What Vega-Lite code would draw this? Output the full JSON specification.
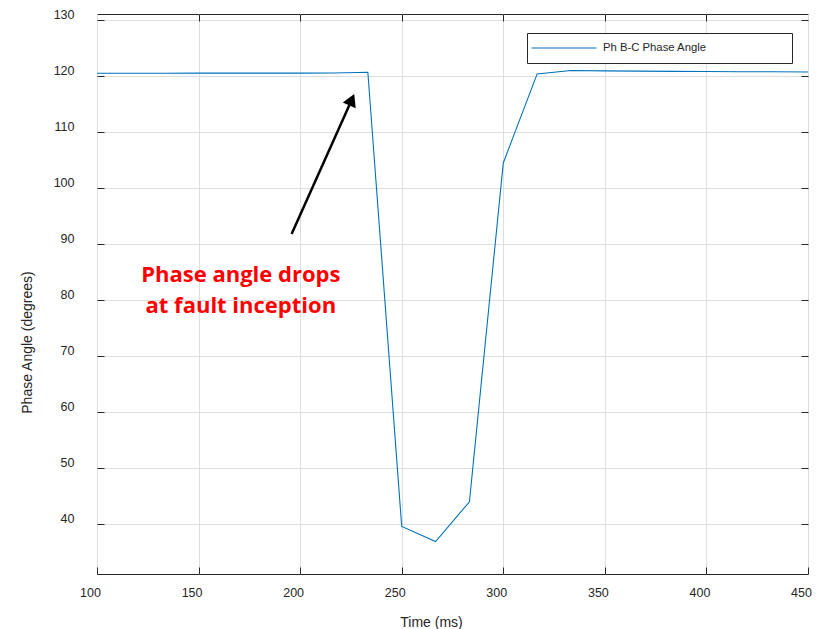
{
  "$schema": "https://vega.github.io/schema/vega-lite/v6.json",
  "width": 711,
  "height": 560,
  "autosize": {"type": "none"},
  "padding": {"left": 97, "top": 14, "right": 9, "bottom": 55},
  "background": "white",
  "config": {
    "view": {"stroke": "#262626", "strokeWidth": 1},
    "axis": {
      "labelFont": "Liberation Sans",
      "titleFont": "Liberation Sans",
      "labelColor": "#262626",
      "titleColor": "#262626",
      "tickColor": "#262626",
      "domain": false,
      "gridColor": "#dedede",
      "gridWidth": 1
    }
  },
  "datasets": {
    "series": [
      {"t": 100, "angle": 120.42, "series": "Ph B-C Phase Angle"},
      {"t": 116.67, "angle": 120.43, "series": "Ph B-C Phase Angle"},
      {"t": 133.33, "angle": 120.43, "series": "Ph B-C Phase Angle"},
      {"t": 150, "angle": 120.44, "series": "Ph B-C Phase Angle"},
      {"t": 166.67, "angle": 120.44, "series": "Ph B-C Phase Angle"},
      {"t": 183.33, "angle": 120.45, "series": "Ph B-C Phase Angle"},
      {"t": 200, "angle": 120.45, "series": "Ph B-C Phase Angle"},
      {"t": 216.67, "angle": 120.46, "series": "Ph B-C Phase Angle"},
      {"t": 233.33, "angle": 120.6, "series": "Ph B-C Phase Angle"},
      {"t": 250, "angle": 39.5, "series": "Ph B-C Phase Angle"},
      {"t": 266.67, "angle": 36.8, "series": "Ph B-C Phase Angle"},
      {"t": 283.33, "angle": 43.9, "series": "Ph B-C Phase Angle"},
      {"t": 300, "angle": 104.4, "series": "Ph B-C Phase Angle"},
      {"t": 316.67, "angle": 120.3, "series": "Ph B-C Phase Angle"},
      {"t": 333.33, "angle": 120.9, "series": "Ph B-C Phase Angle"},
      {"t": 350, "angle": 120.85, "series": "Ph B-C Phase Angle"},
      {"t": 366.67, "angle": 120.8, "series": "Ph B-C Phase Angle"},
      {"t": 383.33, "angle": 120.75, "series": "Ph B-C Phase Angle"},
      {"t": 400, "angle": 120.72, "series": "Ph B-C Phase Angle"},
      {"t": 416.67, "angle": 120.7, "series": "Ph B-C Phase Angle"},
      {"t": 433.33, "angle": 120.68, "series": "Ph B-C Phase Angle"},
      {"t": 450, "angle": 120.65, "series": "Ph B-C Phase Angle"}
    ],
    "arrow": [{"x1": 195.8, "y1": 91.7, "x2": 224.2, "y2": 114.7, "hx": 225.4, "hy": 115.7}],
    "note": [
      {"x": 170.8, "y": 83.1, "label": "Phase angle drops"},
      {"x": 170.8, "y": 77.6, "label": "at fault inception"}
    ]
  },
  "layer": [
    {
      "data": {"name": "series"},
      "mark": {"type": "line", "strokeWidth": 1.1, "clip": true},
      "encoding": {
        "x": {
          "field": "t", "type": "quantitative",
          "scale": {"domain": [100, 450], "nice": false, "zero": false},
          "axis": {
            "orient": "bottom",
            "values": [100, 150, 200, 250, 300, 350, 400, 450],
            "grid": true,
            "tickSize": -7,
            "labelPadding": 19,
            "labelOffset": -7,
            "labelFontSize": 12.5,
            "labelBaseline": "top",
            "labelFlush": false,
            "title": "Time (ms)",
            "titleFontSize": 14,
            "titleFontWeight": "normal",
            "titleX": 334,
            "titleY": 48,
            "titleBaseline": "middle"
          }
        },
        "y": {
          "field": "angle", "type": "quantitative",
          "scale": {"domain": [31, 131], "nice": false, "zero": false},
          "axis": {
            "orient": "left",
            "values": [40, 50, 60, 70, 80, 90, 100, 110, 120, 130],
            "grid": true,
            "tickSize": -7,
            "labelPadding": 30,
            "labelOffset": -5.5,
            "labelFontSize": 12.5,
            "labelFlush": false,
            "title": "Phase Angle (degrees)",
            "titleFontSize": 14,
            "titleFontWeight": "normal",
            "titleX": -70,
            "titleY": 328,
            "titleAngle": -90,
            "titleAlign": "center",
            "titleBaseline": "middle"
          }
        },
        "color": {
          "field": "series", "type": "nominal",
          "scale": {"range": ["#0072BD"]},
          "legend": {
            "title": null,
            "orient": "none",
            "legendX": 430,
            "legendY": 19,
            "strokeColor": "#262626",
            "fillColor": "white",
            "padding": 9,
            "symbolType": "M-6.5,0H6.5",
            "symbolSize": 100,
            "symbolStrokeWidth": 1.2,
            "symbolOffset": 22,
            "labelOffset": 33,
            "labelLimit": 400,
            "labelFont": "Liberation Sans",
            "labelFontSize": 11.3,
            "labelColor": "#262626",
            "labelExpr": "datum.label + '\u2007\u2007\u2007\u2007\u2007\u2007\u2007\u2007\u2007\u2007\u2007\u2007\u200b'"
          }
        }
      }
    },
    {
      "data": {"name": "arrow"},
      "mark": {"type": "rule", "color": "black", "strokeWidth": 2.5},
      "encoding": {
        "x": {
          "field": "x1", "type": "quantitative",
          "axis": {"orient": "top", "values": [150, 200, 250, 300, 350, 400], "labels": false, "grid": false, "tickSize": -7, "title": null}
        },
        "x2": {"field": "x2"},
        "y": {
          "field": "y1", "type": "quantitative",
          "axis": {"orient": "right", "values": [40, 50, 60, 70, 80, 90, 100, 110, 120, 130], "labels": false, "grid": false, "tickSize": -7, "title": null}
        },
        "y2": {"field": "y2"}
      }
    },
    {
      "data": {"name": "arrow"},
      "mark": {"type": "point", "shape": "triangle-up", "filled": true, "color": "black", "opacity": 1, "size": 200, "angle": 24},
      "encoding": {
        "x": {"field": "hx", "type": "quantitative", "axis": null},
        "y": {"field": "hy", "type": "quantitative", "axis": null}
      }
    },
    {
      "data": {"name": "note"},
      "mark": {"type": "text", "font": "Open Sans", "fontWeight": "bold", "fontSize": 22, "color": "#FF0000", "align": "center", "baseline": "alphabetic"},
      "encoding": {
        "x": {"field": "x", "type": "quantitative", "axis": null},
        "y": {"field": "y", "type": "quantitative", "axis": null},
        "text": {"field": "label"}
      }
    }
  ],
  "resolve": {"axis": {"x": "independent", "y": "independent"}}
}
